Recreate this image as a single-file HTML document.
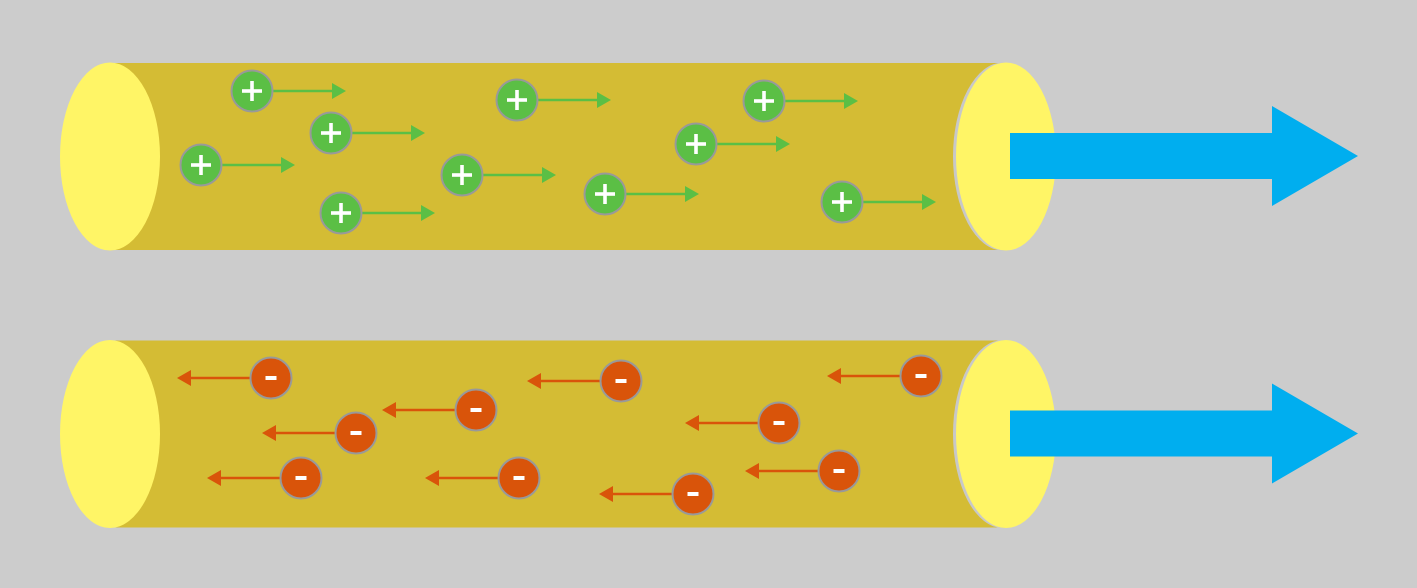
<!DOCTYPE html>
<html><head><meta charset="utf-8"><style>html,body{margin:0;padding:0;background:#cccccc;}svg{display:block}</style></head><body>
<svg width="1417" height="588" viewBox="0 0 1417 588" xmlns="http://www.w3.org/2000/svg" font-family="Liberation Sans, sans-serif">
<rect width="1417" height="588" fill="#cccccc"/>
<defs>
<g id="cyl">
<rect x="110" y="63" width="896" height="187" fill="#d4bc34"/>
<ellipse cx="110" cy="156.5" rx="50" ry="94" fill="#fff566"/>
<ellipse cx="1003" cy="156.5" rx="50" ry="94" fill="#c8c8c8"/>
<ellipse cx="1006" cy="156.5" rx="50" ry="94" fill="#fff566"/>
<polygon points="1010,133 1272,133 1272,106 1358,156 1272,206 1272,179 1010,179" fill="#00aeef"/>
</g>
<g id="p">
<line x1="21" y1="0" x2="82" y2="0" stroke="#5bbf45" stroke-width="2.5"/>
<polygon points="80,-8 94,0 80,8" fill="#5bbf45"/>
<circle r="20.5" fill="#5bbf45" stroke="#999" stroke-width="2"/>
<rect x="-10" y="-1.8" width="20" height="3.6" fill="#fff"/>
<rect x="-1.8" y="-10" width="3.6" height="20" fill="#fff"/>
</g>
<g id="m">
<line x1="-21" y1="0" x2="-82" y2="0" stroke="#d9540a" stroke-width="2.5"/>
<polygon points="-80,-8 -94,0 -80,8" fill="#d9540a"/>
<circle r="20.5" fill="#d9540a" stroke="#999" stroke-width="2"/>
<rect x="-5.5" y="-2" width="11" height="4" fill="#fff"/>
</g>
</defs>
<use href="#cyl"/>
<use href="#cyl" y="277.5"/>
<use href="#p" x="252" y="91"/>
<use href="#p" x="331" y="133"/>
<use href="#p" x="201" y="165"/>
<use href="#p" x="341" y="213"/>
<use href="#p" x="517" y="100"/>
<use href="#p" x="462" y="175"/>
<use href="#p" x="605" y="194"/>
<use href="#p" x="696" y="144"/>
<use href="#p" x="764" y="101"/>
<use href="#p" x="842" y="202"/>
<use href="#m" x="271" y="378"/>
<use href="#m" x="356" y="433"/>
<use href="#m" x="301" y="478"/>
<use href="#m" x="476" y="410"/>
<use href="#m" x="519" y="478"/>
<use href="#m" x="621" y="381"/>
<use href="#m" x="693" y="494"/>
<use href="#m" x="779" y="423"/>
<use href="#m" x="839" y="471"/>
<use href="#m" x="921" y="376"/>
</svg>
</body></html>
